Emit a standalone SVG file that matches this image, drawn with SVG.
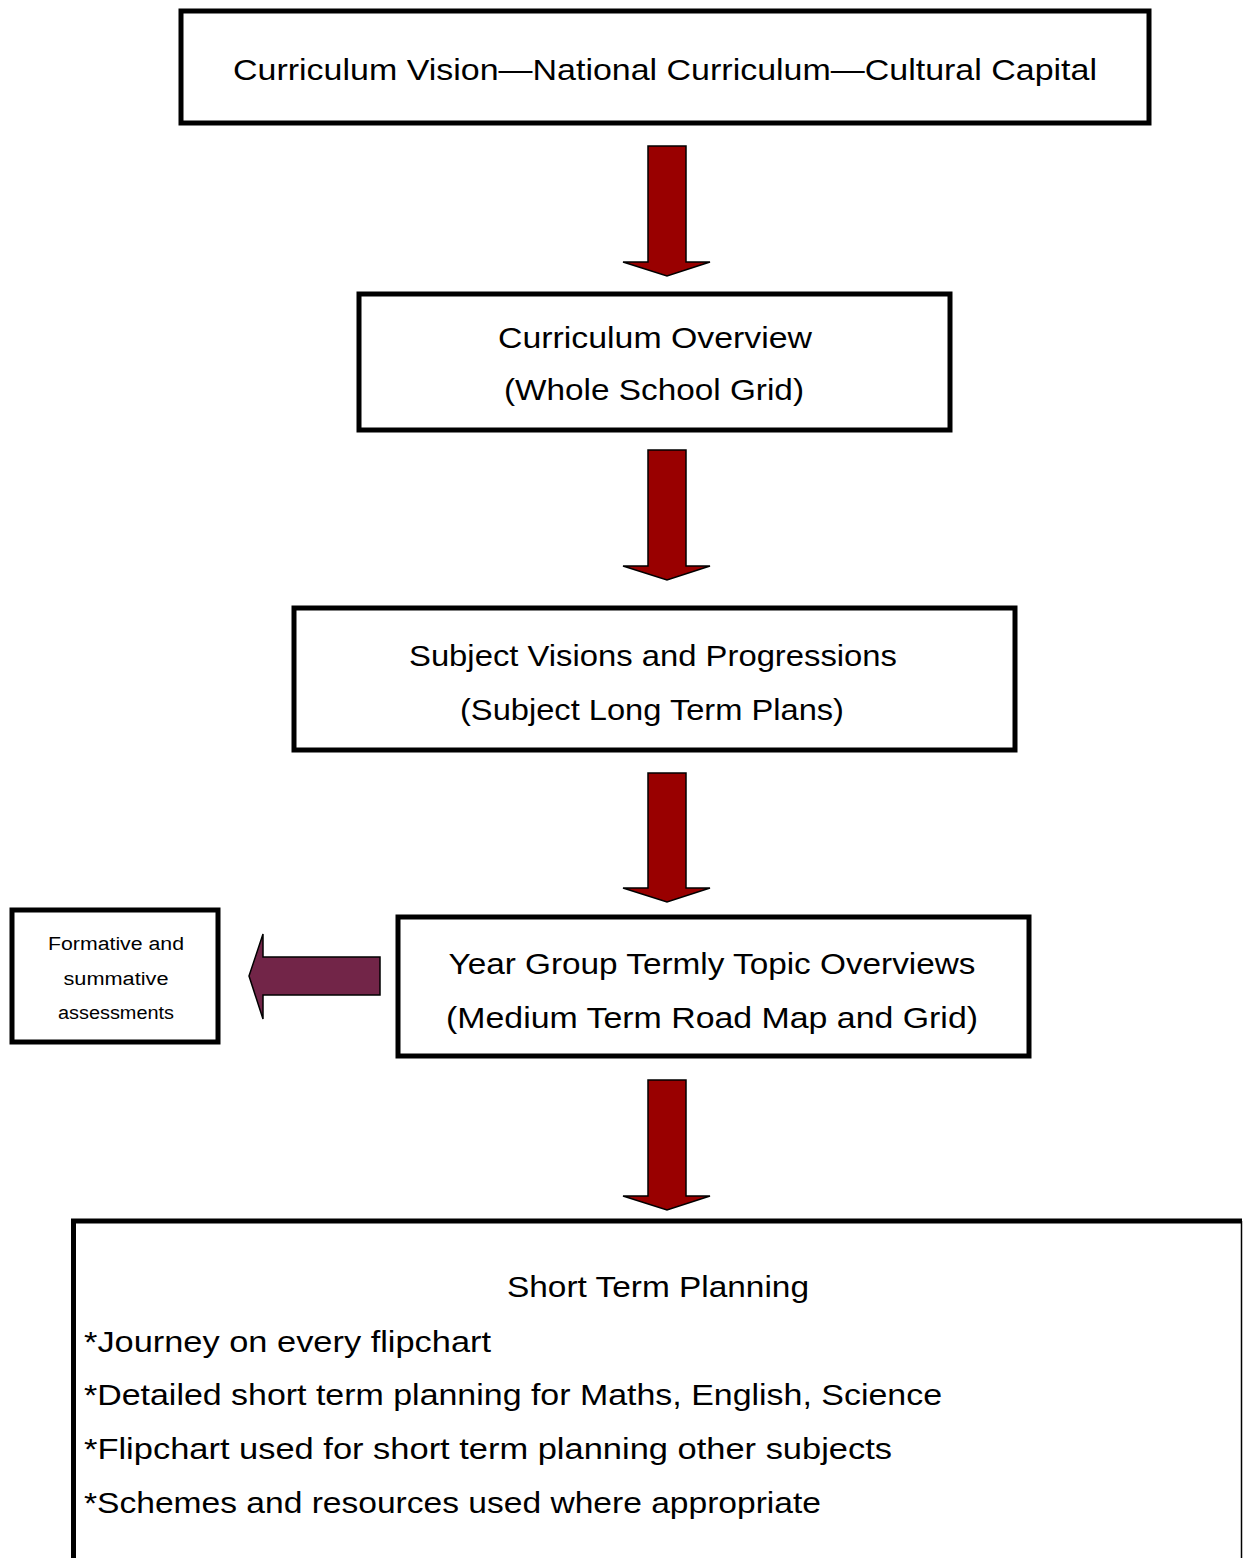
<svg xmlns="http://www.w3.org/2000/svg" width="1243" height="1558" viewBox="0 0 1243 1558">
<style>
.box{fill:#fff;stroke:#000;stroke-width:5}
.t{font-family:"Liberation Sans",Arial,sans-serif;font-size:30px;fill:#000}
.c{text-anchor:middle}
.s{font-family:"Liberation Sans",Arial,sans-serif;font-size:18px;fill:#000;text-anchor:middle}
.down{fill:#990000;stroke:#000;stroke-width:1.5;stroke-linejoin:miter}
.left{fill:#722548;stroke:#000;stroke-width:1.5}
</style>
<rect width="1243" height="1558" fill="#fff"/>
<g id="connectors">
<polygon class="down" points="648,146 686,146 686,262 710,262 667,276 623,262 648,262"/>
<polygon class="down" points="648,450 686,450 686,566 710,566 667,580 623,566 648,566"/>
<polygon class="down" points="648,773 686,773 686,888 710,888 667,902 623,888 648,888"/>
<polygon class="down" points="648,1080 686,1080 686,1196 710,1196 667,1210 623,1196 648,1196"/>
<polygon class="left" points="380,957 380,995 263,995 263,1019 249,976 263,934 263,957"/>
</g>
<g id="node-vision">
<rect class="box" x="181" y="11" width="968" height="112"/>
<text class="t c" x="665" y="80" textLength="864" lengthAdjust="spacingAndGlyphs">Curriculum Vision—National Curriculum—Cultural Capital</text>
</g>
<g id="node-overview">
<rect class="box" x="359" y="294" width="591" height="136"/>
<text class="t c" x="655" y="348" textLength="314" lengthAdjust="spacingAndGlyphs">Curriculum Overview</text>
<text class="t c" x="654" y="400" textLength="300" lengthAdjust="spacingAndGlyphs">(Whole School Grid)</text>
</g>
<g id="node-subject">
<rect class="box" x="294" y="608" width="721" height="142"/>
<text class="t c" x="653" y="666" textLength="488" lengthAdjust="spacingAndGlyphs">Subject Visions and Progressions</text>
<text class="t c" x="652" y="720" textLength="384" lengthAdjust="spacingAndGlyphs">(Subject Long Term Plans)</text>
</g>
<g id="node-yeargroup">
<rect class="box" x="398" y="917" width="631" height="139"/>
<text class="t c" x="712" y="974" textLength="527" lengthAdjust="spacingAndGlyphs">Year Group Termly Topic Overviews</text>
<text class="t c" x="712" y="1028" textLength="532" lengthAdjust="spacingAndGlyphs">(Medium Term Road Map and Grid)</text>
</g>
<g id="node-assessments">
<rect class="box" x="12" y="910" width="206" height="132"/>
<text class="s" x="116" y="950" textLength="136" lengthAdjust="spacingAndGlyphs">Formative and</text>
<text class="s" x="116" y="985" textLength="105" lengthAdjust="spacingAndGlyphs">summative</text>
<text class="s" x="116" y="1019" textLength="116" lengthAdjust="spacingAndGlyphs">assessments</text>
</g>
<g id="node-shortterm">
<path d="M73.5,1570 V1221 H1242" fill="none" stroke="#000" stroke-width="5"/>
<line x1="1241.5" y1="1221" x2="1241.5" y2="1570" stroke="#000" stroke-width="1.5"/>
<text class="t c" x="658" y="1297" textLength="302" lengthAdjust="spacingAndGlyphs">Short Term Planning</text>
<text class="t" x="84" y="1352" textLength="407" lengthAdjust="spacingAndGlyphs">*Journey on every flipchart</text>
<text class="t" x="84" y="1405" textLength="858" lengthAdjust="spacingAndGlyphs">*Detailed short term planning for Maths, English, Science</text>
<text class="t" x="84" y="1459" textLength="808" lengthAdjust="spacingAndGlyphs">*Flipchart used for short term planning other subjects</text>
<text class="t" x="84" y="1513" textLength="737" lengthAdjust="spacingAndGlyphs">*Schemes and resources used where appropriate</text>
</g>
</svg>
